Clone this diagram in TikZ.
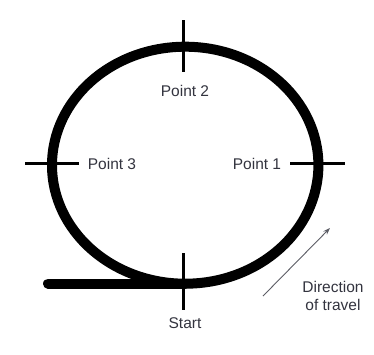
\documentclass[tikz,border=0pt]{standalone}
\usepackage{fontspec}
\setmainfont{Liberation Sans}
\usetikzlibrary{arrows.meta}
\definecolor{txt}{HTML}{33343F}
\begin{document}
\begin{tikzpicture}[x=1pt,y=-1pt,
  track/.style={line width=10pt,line cap=round},
  tick/.style={line width=3pt},
  lbl/.style={inner sep=0pt,text=txt,font=\fontsize{15.5}{18}\selectfont},
  dir/.style={draw=txt!80,line width=0.9pt,-{Stealth[length=7pt,width=5pt]}}]
\useasboundingbox[fill=white] (0,0) rectangle (374,354);
% track
\draw[track] (185.2,165.2) ellipse [x radius=133.2, y radius=118.5];
\coordinate (lend) at (48,283.5);
\coordinate (bottom) at (185.2,283.5);
\draw[track] (lend) -- (bottom);
% ticks
\coordinate (t2a) at (183.5,20); \coordinate (t2b) at (183.5,71.5);
\coordinate (t0a) at (183.5,253); \coordinate (t0b) at (183.5,310);
\coordinate (t3a) at (25,163.5); \coordinate (t3b) at (79,163.5);
\coordinate (t1a) at (290,163.5); \coordinate (t1b) at (345,163.5);
\draw[tick] (t2a) -- (t2b);
\draw[tick] (t0a) -- (t0b);
\draw[tick] (t3a) -- (t3b);
\draw[tick] (t1a) -- (t1b);
% labels
\node[lbl] (p2) at (185,90.5) {Point 2};
\node[lbl] (p3) at (112,164) {Point 3};
\node[lbl] (p1) at (257,164) {Point 1};
\node[lbl] (st) at (185,323) {Start};
\node[lbl,align=center] (dt) at (333,296) {Direction\\of travel};
% direction arrow
\coordinate (da) at (263,296);
\coordinate (db) at (330,228);
\draw[dir] (da) -- (db);
\end{tikzpicture}
\end{document}
